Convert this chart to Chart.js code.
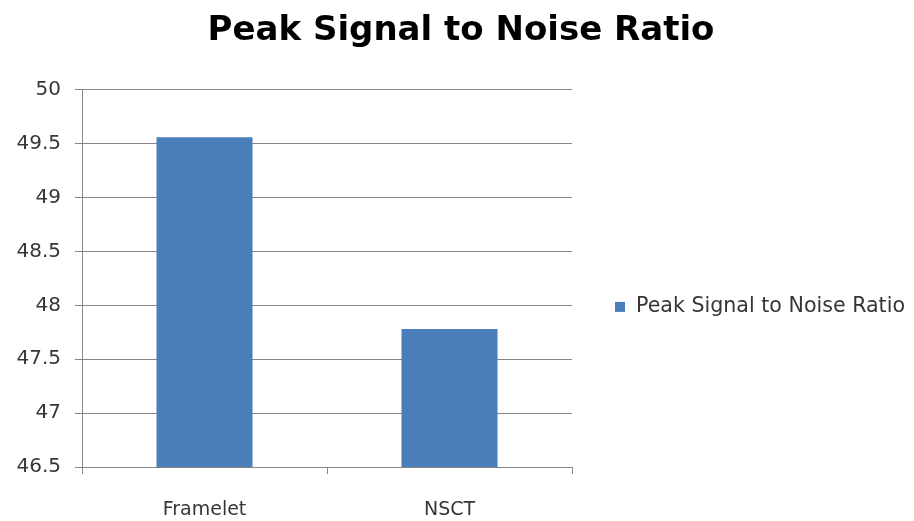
<!DOCTYPE html>
<html>
<head>
<meta charset="utf-8">
<script src="https://cdn.jsdelivr.net/npm/chart.js@4"></script>
<style>
  html, body { margin: 0; padding: 0; background: #ffffff; }
  #wrap { width: 914px; height: 521px; }
</style>
</head>
<body>
<div id="wrap"><canvas id="c" width="914" height="521"></canvas></div>
<script>
const categories = ["Framelet", "NSCT"];
const seriesName = "Peak Signal to Noise Ratio";
const psnrValues = [49.56, 47.78];
const yMin = 46.5;
const yMax = 50;
const yStep = 0.5;

const gridGrey = "#868686";
const textGrey = "#363636";
const barBlue = "#4a7ebb";
const fontFamily = "'DejaVu Sans', sans-serif";

// Single-entry legend in the space right of the plot area, drawn from the dataset itself
const sideLegend = {
  id: "sideLegend",
  afterDraw(chart) {
    const ctx = chart.ctx;
    const area = chart.chartArea;
    const ds = chart.data.datasets[0];
    const x = area.right + 43;
    const y = (area.top + area.bottom) / 2 + 28.5;
    ctx.save();
    ctx.fillStyle = ds.backgroundColor;
    ctx.fillRect(x, y - 5, 10, 10);
    ctx.fillStyle = textGrey;
    ctx.font = "20.6px " + fontFamily;
    ctx.textBaseline = "middle";
    ctx.textAlign = "left";
    ctx.fillText(ds.label, x + 21, y);
    ctx.restore();
  }
};

new Chart(document.getElementById("c"), {
  type: "bar",
  data: {
    labels: categories,
    datasets: [{
      label: seriesName,
      data: psnrValues,
      backgroundColor: barBlue,
      borderWidth: 0,
      categoryPercentage: 0.392,
      barPercentage: 1.0
    }]
  },
  options: {
    responsive: false,
    animation: false,
    layout: { padding: { left: 8, right: 0, top: 0, bottom: 0 } },
    plugins: {
      title: {
        display: true,
        text: seriesName,
        color: "#000000",
        font: { family: fontFamily, size: 34, weight: "bold" },
        padding: { top: 11, bottom: 38 }
      },
      legend: { display: false },
      tooltip: { enabled: false }
    },
    scales: {
      x: {
        offset: true,
        grid: { offset: true, drawOnChartArea: false, drawTicks: true, tickLength: 7, color: gridGrey },
        border: { color: gridGrey, width: 1 },
        ticks: { color: textGrey, font: { family: fontFamily, size: 19 }, padding: 25 },
        afterFit: (s) => { s.height = 54; }
      },
      y: {
        min: yMin,
        max: yMax,
        ticks: {
          stepSize: yStep,
          color: textGrey,
          font: { family: fontFamily, size: 20 },
          padding: 14,
          callback: (v) => String(Math.round(v * 10) / 10)
        },
        grid: { color: gridGrey, lineWidth: 1, tickLength: 7 },
        border: { color: gridGrey, width: 1 },
        afterFit: (s) => { s.width = 74; }
      },
      // empty right-hand axis that reserves the legend column
      legendSpace: {
        type: "linear",
        position: "right",
        display: true,
        grid: { display: false },
        border: { display: false },
        ticks: { display: false },
        afterFit: (s) => { s.width = 342; }
      }
    }
  },
  plugins: [sideLegend]
});
</script>
</body>
</html>
